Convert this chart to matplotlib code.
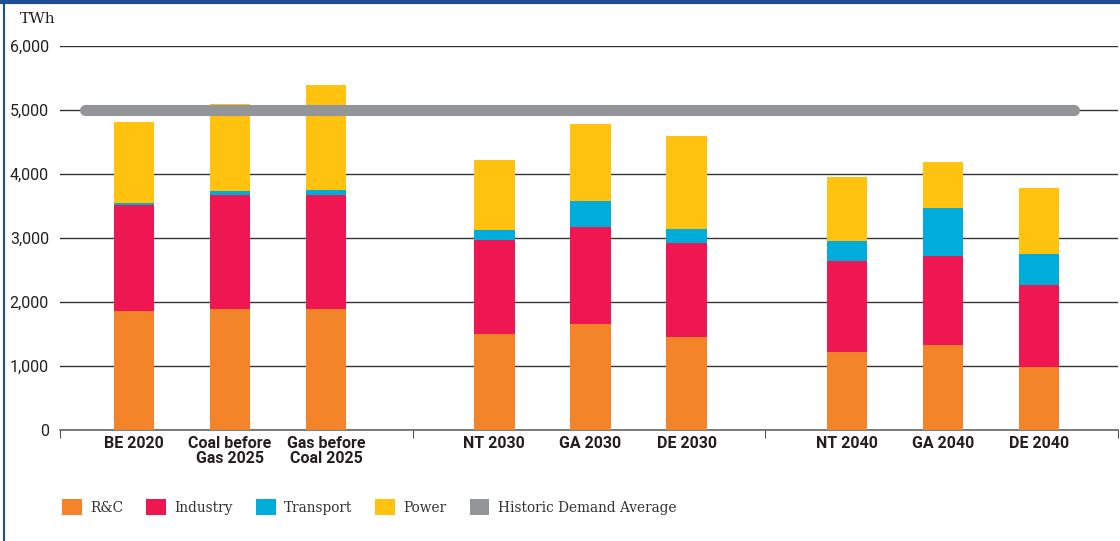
import numpy as np
import matplotlib.pyplot as plt
from matplotlib.patches import Patch
from matplotlib.lines import Line2D

# scenarios, grouped (2020/2025 | 2030 | 2040)
groups = [
    ["BE 2020", "Coal before\nGas 2025", "Gas before\nCoal 2025"],
    ["NT 2030", "GA 2030", "DE 2030"],
    ["NT 2040", "GA 2040", "DE 2040"],
]
labels = [s for g in groups for s in g]

# TWh per sector
rc = [1860, 1895, 1895, 1500, 1655, 1455, 1220, 1330, 985]
industry = [1655, 1770, 1770, 1470, 1515, 1465, 1415, 1395, 1280]
transport = [30, 75, 85, 155, 405, 220, 320, 740, 490]
power = [1265, 1355, 1635, 1095, 1205, 1455, 1005, 720, 1030]
historic_avg = 5000

colors = {
    "R&C": "#F4842A",
    "Industry": "#EE1751",
    "Transport": "#00ACDA",
    "Power": "#FEC20F",
    "Historic Demand Average": "#939598",
}

group_w = 3.67
offsets = [0.77, 0.85, 0.85]
x = np.array([g * group_w + offsets[g] + i
              for g in range(len(groups)) for i in range(len(groups[g]))])

fig = plt.figure(figsize=(11.2, 5.41), dpi=100)
ax = fig.add_axes([0.0536, 0.205, 0.9446, 0.71])

bottom = np.zeros(len(labels))
for name, vals in [("R&C", rc), ("Industry", industry),
                   ("Transport", transport), ("Power", power)]:
    ax.bar(x, vals, width=0.42, bottom=bottom, color=colors[name],
           zorder=3, linewidth=0)
    bottom += np.array(vals)

ax.plot([0.26, 10.55], [historic_avg, historic_avg], color=colors["Historic Demand Average"],
        lw=8, solid_capstyle="round", zorder=4)

ax.set_xlim(0, 3 * group_w)
ax.set_ylim(0, 6000)
ax.set_yticks(np.arange(0, 6001, 1000))
ax.set_yticklabels([f"{v:,}" for v in range(0, 6001, 1000)],
                   fontsize=11.5, color="#231f20", family="Roboto")
ax.yaxis.grid(True, color="#333333", lw=1, zorder=1)
ax.tick_params(axis="y", length=0, pad=8)

ax.set_xticks([0, group_w, 2 * group_w, 3 * group_w])
ax.set_xticklabels([])
ax.tick_params(axis="x", which="major", length=6, direction="out", color="#555555")
ax.set_xticks(x, minor=True)
ax.set_xticklabels(labels, minor=True, fontsize=11.5, fontweight="bold",
                   family="Roboto", color="#231f20", linespacing=1.0)
ax.tick_params(axis="x", which="minor", length=0, pad=4)

for s in ["top", "right", "left"]:
    ax.spines[s].set_visible(False)
ax.spines["bottom"].set_color("#666666")
ax.spines["bottom"].set_linewidth(1.2)

fig.text(0.018, 0.965, "TWh", fontsize=11, family="DejaVu Serif", color="#231f20",
         va="center")

handles = [Patch(facecolor=c, edgecolor="none") for c in colors.values()]
fig.legend(handles, list(colors.keys()), loc="center left",
           bbox_to_anchor=(0.043, 0.063), ncol=5, frameon=False,
           prop={"family": "DejaVu Serif", "size": 11, "stretch": "condensed"},
           handlelength=1.3, handleheight=1.3, columnspacing=1.5,
           handletextpad=0.55, labelcolor="#333333")

# frame lines
fig.add_artist(Line2D([0, 1], [0.997, 0.997], transform=fig.transFigure,
                      color="#1F4E96", lw=3))
fig.add_artist(Line2D([0.0035, 0.0035], [0, 1], transform=fig.transFigure,
                      color="#1F4E96", lw=1.5))

fig.savefig("out.png", dpi=100)
